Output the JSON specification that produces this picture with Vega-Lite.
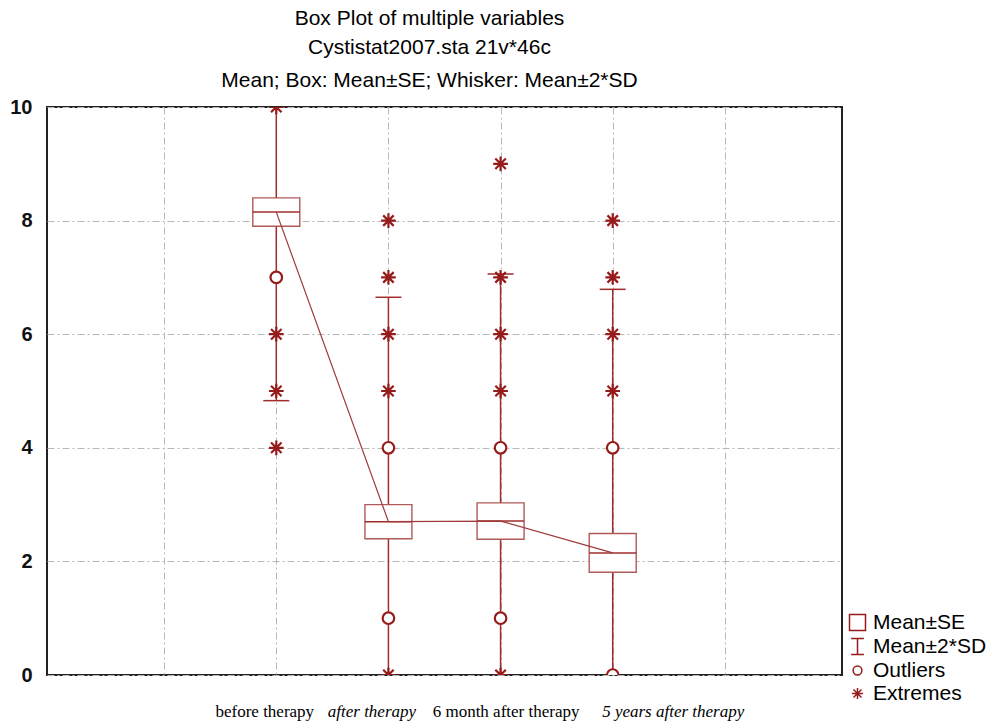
{
  "$schema": "https://vega.github.io/schema/vega-lite/v6.json",
  "width": 795,
  "height": 568,
  "autosize": {"type": "none"},
  "padding": {"left": 47, "top": 107, "right": 145, "bottom": 47},
  "background": "white",
  "title": {
    "text": ["Box Plot of multiple variables", "Cystistat2007.sta 21v*46c"],
    "subtitle": "Mean; Box: Mean±SE; Whisker: Mean±2*SD",
    "font": "Liberation Sans",
    "subtitleFont": "Liberation Sans",
    "fontSize": 21,
    "subtitleFontSize": 21,
    "fontWeight": "normal",
    "color": "black",
    "subtitleColor": "black",
    "lineHeight": 29,
    "subtitleLineHeight": 21,
    "subtitlePadding": 12,
    "offset": 6,
    "anchor": "middle",
    "dx": -15
  },
  "datasets": {
    "boxes": [
      {"var_no": 2, "variable": "before therapy", "mean": 8.15, "se_lo": 7.9, "se_hi": 8.4, "sd_lo": 4.83, "sd_hi": 11.47},
      {"var_no": 3, "variable": "after therapy", "mean": 2.7, "se_lo": 2.4, "se_hi": 3.0, "sd_lo": -1.25, "sd_hi": 6.65},
      {"var_no": 4, "variable": "6 month after therapy", "mean": 2.71, "se_lo": 2.39, "se_hi": 3.03, "sd_lo": -1.64, "sd_hi": 7.06},
      {"var_no": 5, "variable": "5 years after therapy", "mean": 2.15, "se_lo": 1.81, "se_hi": 2.49, "sd_lo": -2.49, "sd_hi": 6.79}
    ],
    "points": [
      {"var_no": 2, "value": 10, "type": "Extremes"},
      {"var_no": 2, "value": 7, "type": "Outliers"},
      {"var_no": 2, "value": 6, "type": "Extremes"},
      {"var_no": 2, "value": 5, "type": "Extremes"},
      {"var_no": 2, "value": 4, "type": "Extremes"},
      {"var_no": 3, "value": 8, "type": "Extremes"},
      {"var_no": 3, "value": 7, "type": "Extremes"},
      {"var_no": 3, "value": 6, "type": "Extremes"},
      {"var_no": 3, "value": 5, "type": "Extremes"},
      {"var_no": 3, "value": 4, "type": "Outliers"},
      {"var_no": 3, "value": 1, "type": "Outliers"},
      {"var_no": 3, "value": 0, "type": "Extremes"},
      {"var_no": 4, "value": 9, "type": "Extremes"},
      {"var_no": 4, "value": 7, "type": "Extremes"},
      {"var_no": 4, "value": 6, "type": "Extremes"},
      {"var_no": 4, "value": 5, "type": "Extremes"},
      {"var_no": 4, "value": 4, "type": "Outliers"},
      {"var_no": 4, "value": 1, "type": "Outliers"},
      {"var_no": 4, "value": 0, "type": "Extremes"},
      {"var_no": 5, "value": 8, "type": "Extremes"},
      {"var_no": 5, "value": 7, "type": "Extremes"},
      {"var_no": 5, "value": 6, "type": "Extremes"},
      {"var_no": 5, "value": 5, "type": "Extremes"},
      {"var_no": 5, "value": 4, "type": "Outliers"},
      {"var_no": 5, "value": 0, "type": "Outliers"}
    ]
  },
  "encoding": {
    "x": {
      "field": "var_no",
      "type": "quantitative",
      "title": null,
      "scale": {"domain": [0, 7], "nice": false, "zero": false},
      "axis": {
        "values": [1, 2, 3, 4, 5, 6],
        "grid": true,
        "gridColor": "#b8b8b8",
        "gridDash": [7, 3, 2, 3],
        "gridWidth": 1,
        "domain": false,
        "ticks": false,
        "labelFlush": false,
        "labelOverlap": false,
        "labelBound": false,
        "labelExpr": "datum.value == 2 ? 'before therapy' : datum.value == 3 ? 'after therapy' : datum.value == 4 ? '6 month after therapy' : datum.value == 5 ? '5 years after therapy' : ''",
        "labelFont": "Liberation Serif",
        "labelFontSize": 17,
        "labelColor": "black",
        "labelPadding": 28,
        "labelFontStyle": {"condition": {"test": "datum.value == 3 || datum.value == 5", "value": "italic"}, "value": "normal"},
        "labelOffset": {"expr": "datum.value == 2 ? -12 : datum.value == 3 ? -17 : datum.value == 4 ? 5 : datum.value == 5 ? 60 : 0"}
      }
    }
  },
  "layer": [
    {
      "data": {"name": "boxes"},
      "mark": {"type": "rule", "color": "#a02c2c", "strokeWidth": 1.5, "clip": true},
      "encoding": {
        "y": {
          "field": "sd_lo",
          "type": "quantitative",
          "title": null,
          "scale": {"domain": [0, 10], "nice": false, "zero": false},
          "axis": {
            "values": [0, 2, 4, 6, 8, 10],
            "format": "d",
            "grid": true,
            "gridColor": "#b8b8b8",
            "gridDash": [7, 3, 2, 3],
            "gridWidth": 1,
            "domain": false,
            "ticks": false,
            "labelFont": "Liberation Sans",
            "labelFontSize": 20,
            "labelFontWeight": "bold",
            "labelColor": "#111111",
            "labelPadding": 15
          }
        },
        "y2": {"field": "sd_hi"}
      }
    },
    {
      "data": {"name": "boxes"},
      "mark": {"type": "tick", "orient": "horizontal", "color": "#a02c2c", "size": 26, "thickness": 1.5, "opacity": 1, "clip": true},
      "encoding": {"y": {"field": "sd_lo", "type": "quantitative", "title": null}}
    },
    {
      "data": {"name": "boxes"},
      "mark": {"type": "tick", "orient": "horizontal", "color": "#a02c2c", "size": 26, "thickness": 1.5, "opacity": 1, "clip": true},
      "encoding": {"y": {"field": "sd_hi", "type": "quantitative", "title": null}}
    },
    {
      "data": {"name": "boxes"},
      "mark": {"type": "bar", "width": 47, "fill": "white", "stroke": "#b05a5a", "strokeWidth": 1.4, "clip": true},
      "encoding": {
        "y": {"field": "se_lo", "type": "quantitative", "title": null},
        "y2": {"field": "se_hi"}
      }
    },
    {
      "data": {"name": "boxes"},
      "mark": {"type": "tick", "orient": "horizontal", "color": "#a02c2c", "size": 47, "thickness": 1.5, "opacity": 1},
      "encoding": {"y": {"field": "mean", "type": "quantitative", "title": null}}
    },
    {
      "data": {"name": "boxes"},
      "mark": {"type": "line", "color": "#a03a3a", "strokeWidth": 1.2},
      "encoding": {"y": {"field": "mean", "type": "quantitative", "title": null}}
    },
    {
      "data": {"name": "points"},
      "transform": [{"filter": "datum.type == 'Outliers'"}],
      "mark": {"type": "point", "shape": "circle", "filled": true, "color": "white", "opacity": 1, "size": 130, "clip": true},
      "encoding": {"y": {"field": "value", "type": "quantitative", "title": null}}
    },
    {
      "data": {"name": "points"},
      "mark": {"type": "point", "filled": false, "color": "#961c1c", "strokeWidth": 2.2, "opacity": 1, "size": 441, "clip": true},
      "encoding": {
        "y": {"field": "value", "type": "quantitative", "title": null},
        "shape": {
          "field": "type",
          "type": "nominal",
          "scale": {
            "domain": ["Mean±SE", "Mean±2*SD", "Outliers", "Extremes"],
            "range": [
              "square",
              "M-0.8,-1L0.8,-1M0,-1L0,1M-0.8,1L0.8,1",
              "M0.55,0A0.55,0.55,0,1,1,-0.55,0A0.55,0.55,0,1,1,0.55,0Z",
              "M0,-0.7L0,0.7M-0.7,0L0.7,0M-0.5,-0.5L0.5,0.5M-0.5,0.5L0.5,-0.5"
            ]
          },
          "legend": {
            "orient": "none",
            "legendX": 800,
            "legendY": 505,
            "title": null,
            "padding": 0,
            "labelFont": "Liberation Sans",
            "labelFontSize": 21,
            "labelColor": "black",
            "labelOffset": 5,
            "rowPadding": 1,
            "symbolSize": 256,
            "symbolStrokeWidth": 1.5
          }
        }
      }
    }
  ],
  "config": {
    "view": {"stroke": "#222222", "strokeWidth": 2}
  }
}
